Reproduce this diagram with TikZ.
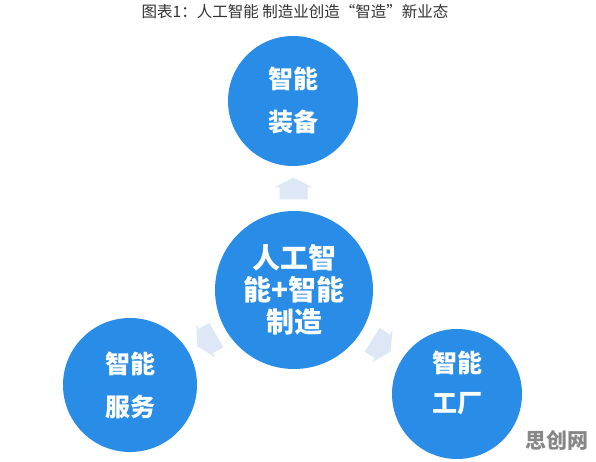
\documentclass[tikz,border=0pt]{standalone}
\usepackage{fontspec}
\newfontfamily\cjk{Noto Sans CJK SC}
\usetikzlibrary{calc}
\definecolor{bubblue}{RGB}{41,141,232}
\definecolor{arrowpale}{RGB}{221,231,246}
\definecolor{titlegray}{RGB}{50,50,50}
\definecolor{markgray}{RGB}{135,135,135}
\tikzset{
    bubble/.style={shape=circle, fill=bubblue, inner sep=0, text=white, align=center,
        font=\cjk\bfseries\fontsize{25}{43}\selectfont},
    bubtext/.style={text=white, align=center, font=\cjk\bfseries\fontsize{25}{40}\selectfont},
    flowarr/.pic={\fill[arrowpale] (-11,-14) -- (1,-14) -- (1,-19) -- (11,0) -- (1,19) -- (1,14) -- (-11,14) -- cycle;}
}
\begin{document}
\begin{tikzpicture}[x=1pt, y=1pt]
        \useasboundingbox[fill=white] (0,0) rectangle (596,462);
        % Title and watermark:
        \node[text=titlegray, font=\cjk\fontsize{15.5}{17}\selectfont](Title) at (295, 450){图表1：人工智能 制造业创造“智造”新业态};
        \node[text=markgray, font=\cjk\bfseries\fontsize{21}{24}\selectfont](Mark) at (557, 22){思创网};
        % Circles:
        \node[bubble, minimum size=158, font=\cjk\bfseries\fontsize{28}{32}\selectfont](AI) at (294, 172){人工智\\能+智能\\制造};
        \node[bubble, minimum size=130](Equip) at (293, 361){智能\\装备};
        \node[bubble, minimum size=134](Serv) at (130, 77){智能\\服务};
        \node[bubble, minimum size=130](Fac) at (457, 68){};
        \node[bubtext](FacText) at ([yshift=11]Fac.center){智能\\工厂};
        % Arrows between the circles:
        \pic[rotate=90] at ($(AI.north)!0.5!(Equip.south)$) {flowarr};
        \pic[rotate=210] at ($(AI)!0.532!(Serv)$) {flowarr};
        \pic[rotate=-32.5] at ($(AI)!0.536!(Fac)$) {flowarr};
    \end{tikzpicture}
\end{document}
